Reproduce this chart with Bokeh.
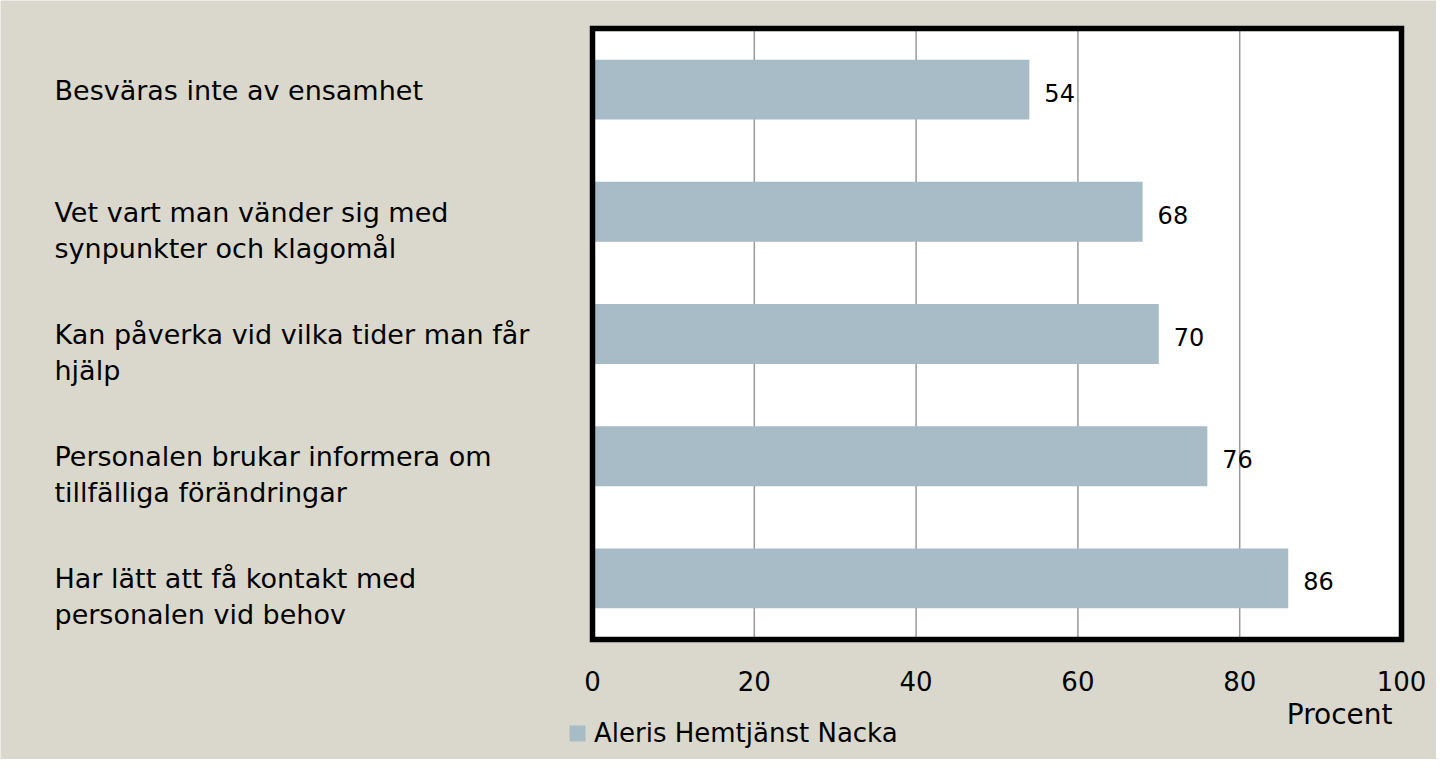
from bokeh.plotting import figure
from bokeh.models import ColumnDataSource, Range1d, LabelSet, Label
from bokeh.core.properties import value
from bokeh.embed import file_html
from bokeh.resources import INLINE

categories = [
    "Besväras inte av ensamhet",
    "Vet vart man vänder sig med\nsynpunkter och klagomål",
    "Kan påverka vid vilka tider man får\nhjälp",
    "Personalen brukar informera om\ntillfälliga förändringar",
    "Har lätt att få kontakt med\npersonalen vid behov",
]
values = [54, 68, 70, 76, 86]
x_ticks = [0, 20, 40, 60, 80, 100]
series_name = "Aleris Hemtjänst Nacka"
axis_title = "Procent"

BG = "#dad8cc"
BAR = "#a7bcc7"
FONT = "DejaVu Sans"

W, H = 1436, 759
# pixel layout of the plotting area inside the canvas
FL, FR, FT, FB = 592, 1401, 28, 639

n = len(categories)
x0, x1 = x_ticks[0], x_ticks[-1]
xs = (FR - FL) / (x1 - x0)
ys = (FB - FT) / n
y_top, y_bot = -0.5, n - 0.5

p = figure(width=W, height=H, output_backend="svg", toolbar_location=None,
           x_range=Range1d(x0 - FL / xs, x1 + (W - FR) / xs),
           y_range=Range1d(y_bot + (H - FB) / ys, y_top - FT / ys),
           min_border=0, x_axis_location=None, y_axis_location=None)
p.background_fill_color = BG
p.border_fill_color = BG
p.outline_line_color = None
p.grid.visible = False

pos = list(range(n))
src = ColumnDataSource(dict(pos=pos, value=values, cat=categories,
                            vtxt=[str(v) for v in values]))
tick_src = ColumnDataSource(dict(t=x_ticks, txt=[str(t) for t in x_ticks],
                                 yb=[y_bot] * len(x_ticks)))

# white plotting area
p.quad(left=x0, right=x1, top=y_top, bottom=y_bot, fill_color="white", line_color=None)
# vertical grid lines
inner = x_ticks[1:-1]
p.segment(x0=inner, x1=inner, y0=[y_top] * len(inner), y1=[y_bot] * len(inner),
          line_color="#9a9a9a", line_width=1.5)
# bars
p.hbar(y="pos", left=0, right="value", height=0.49, source=src,
       fill_color=BAR, line_color=None, legend_label=series_name)
# thick frame
p.quad(left=x0, right=x1, top=y_top, bottom=y_bot, fill_color=None,
       line_color="black", line_width=5.5, line_join="miter")

p.add_layout(LabelSet(x=0, y="pos", text="cat", source=src, x_offset=-538, y_offset=15,
                      text_font=value(FONT), text_font_size="27px", text_color="black",
                      text_align="left", text_baseline="top", text_line_height=1.16))

p.add_layout(LabelSet(x="value", y="pos", text="vtxt", source=src, x_offset=15, y_offset=-3,
                      text_font=value(FONT), text_font_size="24px", text_color="black",
                      text_align="left", text_baseline="middle"))

p.add_layout(LabelSet(x="t", y="yb", text="txt", source=tick_src, y_offset=-41,
                      text_font=value(FONT), text_font_size="26px", text_color="black",
                      text_align="center", text_baseline="middle"))

p.add_layout(Label(x=x1, y=y_bot, x_offset=-9, y_offset=-75,
                   text=axis_title, text_font=FONT, text_font_size="28px",
                   text_color="black", text_align="right", text_baseline="middle"))

lg = p.legend[0]
lg.location = (567, 11)
lg.background_fill_alpha = 0
lg.border_line_color = None
lg.padding = 0
lg.margin = 0
lg.glyph_width = 20
lg.glyph_height = 20
lg.label_standoff = 7
lg.label_text_font = FONT
lg.label_text_font_size = "26px"
lg.label_text_color = "black"
lg.label_height = 28

open("out.html", "w").write(file_html(p, INLINE))
